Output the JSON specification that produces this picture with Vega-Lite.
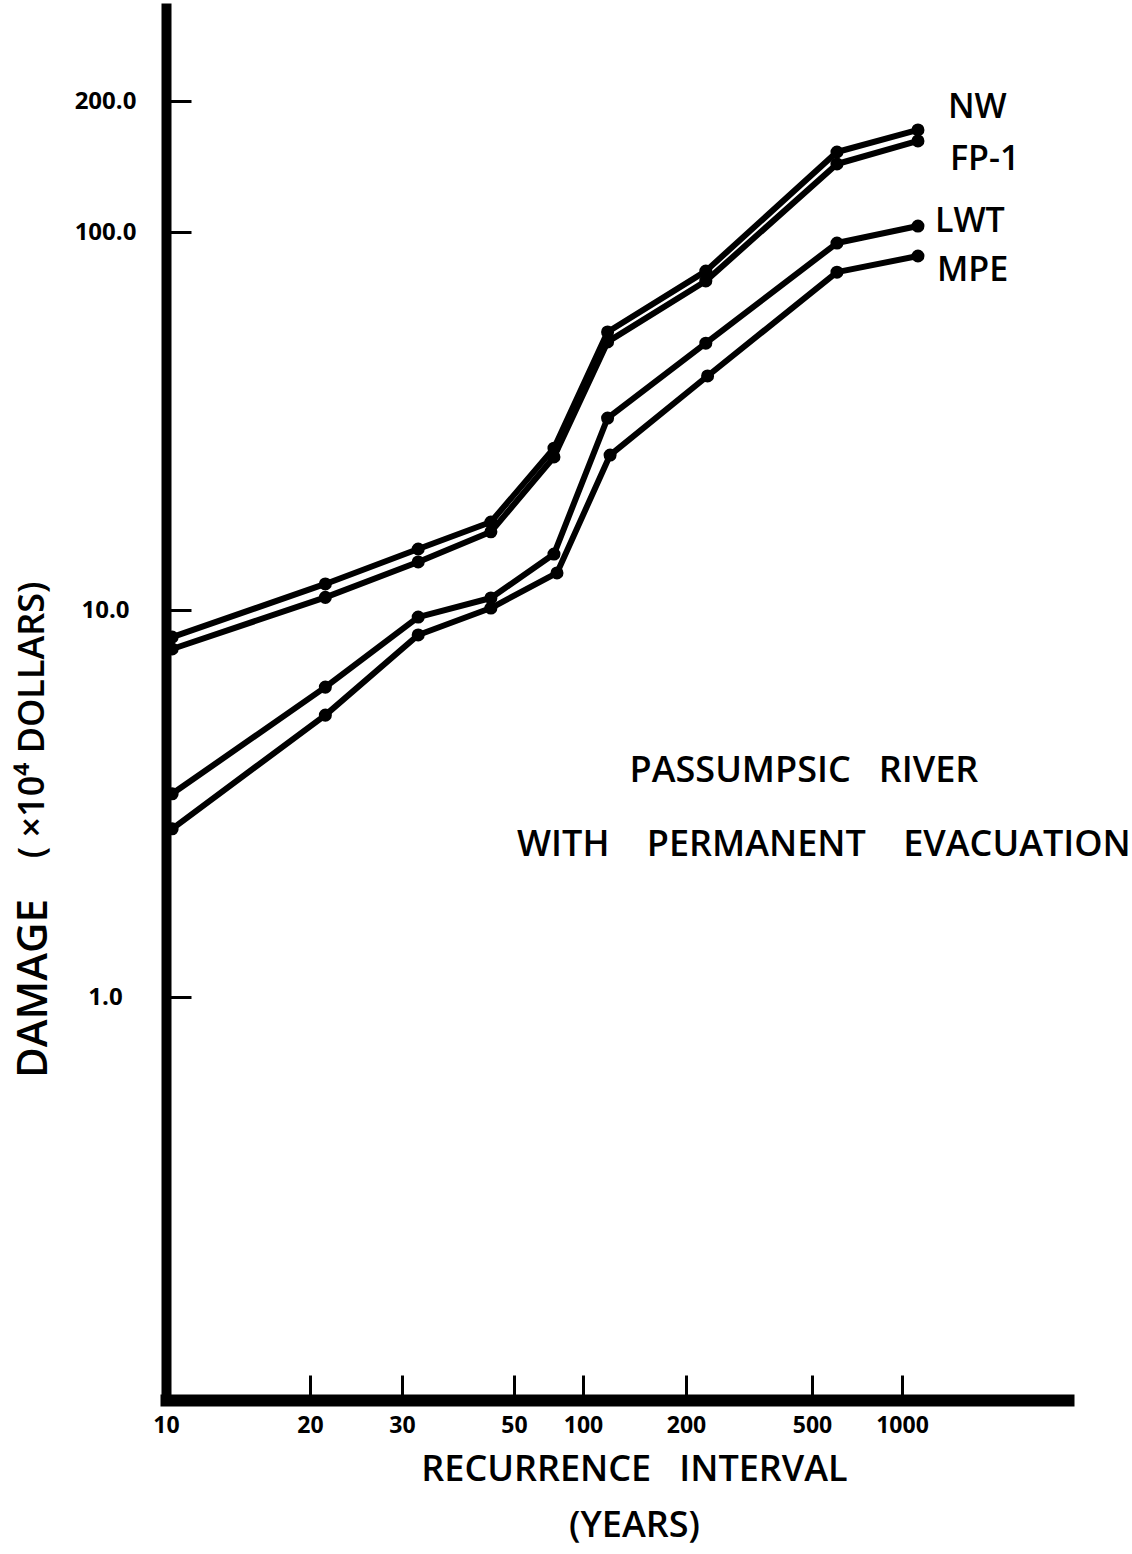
{
  "$schema": "https://vega.github.io/schema/vega-lite/v6.json",
  "width": 902,
  "height": 1392,
  "autosize": "none",
  "padding": {"left": 166, "top": 8, "right": 64, "bottom": 154},
  "background": "white",
  "config": {"view": {"stroke": null}, "font": "Open Sans"},
  "datasets": {
    "curves": [
      {"series": "NW", "interval": 10.3, "damage": 8.51},
      {"series": "NW", "interval": 21.4, "damage": 11.72},
      {"series": "NW", "interval": 32.3, "damage": 14.5},
      {"series": "NW", "interval": 45, "damage": 17.09},
      {"series": "NW", "interval": 74.7, "damage": 26.8},
      {"series": "NW", "interval": 118, "damage": 54.4},
      {"series": "NW", "interval": 231, "damage": 78.8},
      {"series": "NW", "interval": 606, "damage": 152.7},
      {"series": "NW", "interval": 1131, "damage": 171.6},
      {"series": "FP-1", "interval": 10.3, "damage": 7.93},
      {"series": "FP-1", "interval": 21.4, "damage": 10.8},
      {"series": "FP-1", "interval": 32.3, "damage": 13.4},
      {"series": "FP-1", "interval": 45, "damage": 16.1},
      {"series": "FP-1", "interval": 74.7, "damage": 25.4},
      {"series": "FP-1", "interval": 118, "damage": 51.2},
      {"series": "FP-1", "interval": 231, "damage": 74.2},
      {"series": "FP-1", "interval": 606, "damage": 143.3},
      {"series": "FP-1", "interval": 1131, "damage": 161.9},
      {"series": "LWT", "interval": 10.3, "damage": 3.35},
      {"series": "LWT", "interval": 21.4, "damage": 6.32},
      {"series": "LWT", "interval": 32.3, "damage": 9.59},
      {"series": "LWT", "interval": 45, "damage": 10.76},
      {"series": "LWT", "interval": 74.7, "damage": 14.06},
      {"series": "LWT", "interval": 118, "damage": 32.2},
      {"series": "LWT", "interval": 231, "damage": 50.8},
      {"series": "LWT", "interval": 606, "damage": 93.5},
      {"series": "LWT", "interval": 1131, "damage": 103.2},
      {"series": "MPE", "interval": 10.3, "damage": 2.72},
      {"series": "MPE", "interval": 21.4, "damage": 5.35},
      {"series": "MPE", "interval": 32.3, "damage": 8.62},
      {"series": "MPE", "interval": 45, "damage": 10.12},
      {"series": "MPE", "interval": 77, "damage": 12.53},
      {"series": "MPE", "interval": 120, "damage": 25.7},
      {"series": "MPE", "interval": 234, "damage": 41.6},
      {"series": "MPE", "interval": 606, "damage": 78.3},
      {"series": "MPE", "interval": 1131, "damage": 86.4}
    ],
    "labels": [
      {"label": "NW", "interval": 1426, "damage": 192.8},
      {"label": "FP-1", "interval": 1448, "damage": 146.4},
      {"label": "LWT", "interval": 1290, "damage": 105.4},
      {"label": "MPE", "interval": 1310, "damage": 78.8}
    ],
    "notes": [
      {"label": "PASSUMPSIC\u00a0\u00a0\u00a0RIVER", "interval": 471.6, "damage": 3.84},
      {"label": "WITH\u00a0\u00a0\u00a0\u00a0PERMANENT\u00a0\u00a0\u00a0\u00a0EVACUATION", "interval": 548, "damage": 2.47}
    ],
    "ytitle": [
      {"label": "( ×10⁴ DOLLARS)", "interval": 5.27, "damage": 5.2}
    ]
  },
  "encoding": {
    "x": {
      "field": "interval",
      "type": "quantitative",
      "scale": {
        "type": "log",
        "domain": [10, 20, 30, 50, 100, 200, 500, 1000, 3600],
        "range": [0, 144, 236, 348, 417, 520, 646, 736, 902],
        "nice": false
      },
      "axis": {
        "values": [10, 20, 30, 50, 100, 200, 500, 1000],
        "format": "d",
        "grid": false,
        "labelFlush": false,
        "labelOverlap": false,
        "domainColor": "black",
        "domainWidth": 12,
        "domainCap": "square",
        "tickColor": "black",
        "tickWidth": 3,
        "tickSize": -25,
        "labelPadding": 39,
        "labelFont": "Open Sans",
        "labelFontWeight": "bold",
        "labelFontSize": 23,
        "labelColor": "black",
        "title": ["RECURRENCE\u00a0\u00a0\u00a0INTERVAL", "(YEARS)"],
        "titleFont": "Open Sans",
        "titleFontWeight": 600,
        "titleFontSize": 36,
        "titleColor": "black",
        "titleX": 468,
        "titleY": 80,
        "titleAlign": "center",
        "titleBaseline": "alphabetic",
        "titleLineHeight": 56
      }
    },
    "y": {
      "field": "damage",
      "type": "quantitative",
      "scale": {
        "type": "log",
        "domain": [0.09, 1, 10, 100, 200, 340],
        "range": [1392, 989, 602, 224, 93, 0],
        "nice": false
      },
      "axis": {
        "values": [1, 10, 100, 200],
        "format": ".1f",
        "grid": false,
        "labelFlush": false,
        "labelOverlap": false,
        "domainColor": "black",
        "domainWidth": 10,
        "domainCap": "square",
        "tickColor": "black",
        "tickWidth": 3,
        "tickSize": -25,
        "labelPadding": 86,
        "labelAlign": "center",
        "labelBaseline": "middle",
        "labelFont": "Open Sans",
        "labelFontWeight": "bold",
        "labelFontSize": 24,
        "labelColor": "black",
        "title": "DAMAGE",
        "titleFont": "Open Sans",
        "titleFontWeight": 600,
        "titleFontSize": 42,
        "titleColor": "black",
        "titleAngle": -90,
        "titleX": -133,
        "titleY": 980,
        "titleAlign": "center",
        "titleBaseline": "middle"
      }
    }
  },
  "layer": [
    {
      "data": {"name": "curves"},
      "mark": {"type": "line", "color": "black", "strokeJoin": "round", "strokeCap": "round"},
      "encoding": {
        "detail": {"field": "series", "type": "nominal"},
        "strokeWidth": {
          "field": "series",
          "type": "nominal",
          "scale": {"domain": ["NW", "FP-1", "LWT", "MPE"], "range": [6, 6, 4, 4]},
          "legend": null
        }
      }
    },
    {
      "data": {"name": "curves"},
      "mark": {"type": "point", "filled": true, "color": "black", "opacity": 1, "size": 170},
      "encoding": {}
    },
    {
      "data": {"name": "labels"},
      "mark": {"type": "text", "align": "left", "baseline": "middle", "font": "Open Sans", "fontWeight": 600, "fontSize": 34, "color": "black"},
      "encoding": {"text": {"field": "label", "type": "nominal"}}
    },
    {
      "data": {"name": "notes"},
      "mark": {"type": "text", "align": "center", "baseline": "middle", "font": "Open Sans", "fontWeight": 600, "fontSize": 36, "color": "black"},
      "encoding": {"text": {"field": "label", "type": "nominal"}}
    },
    {
      "data": {"name": "ytitle"},
      "mark": {"type": "text", "align": "center", "baseline": "middle", "angle": 270, "font": "Open Sans", "fontWeight": 600, "fontSize": 36, "color": "black"},
      "encoding": {"text": {"field": "label", "type": "nominal"}}
    }
  ]
}
